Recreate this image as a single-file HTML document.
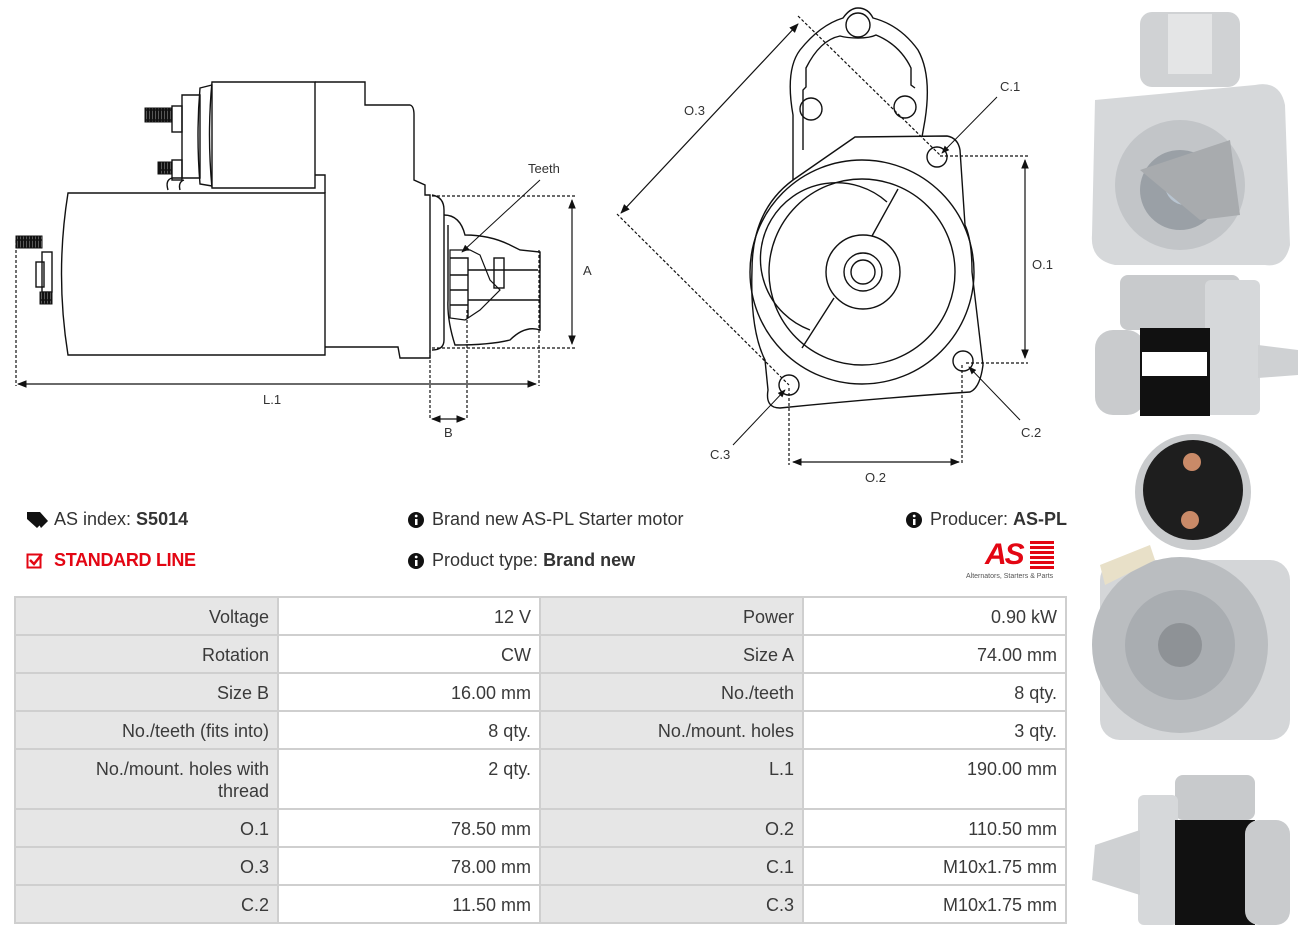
<!DOCTYPE html>
<html><head><meta charset="utf-8"><style>
body{margin:0;width:1303px;height:936px;background:#fff;position:relative;overflow:hidden;font-family:"Liberation Sans",sans-serif;color:#333}
.t{position:absolute;font-size:18px;white-space:nowrap}
.c{position:absolute;box-sizing:border-box;font-size:18px;text-align:right;padding:8px 8px 0 0;line-height:22px;color:#3a3a3a}
.g{background:#e6e6e6}.w{background:#fff}
</style></head><body>
<svg width="1303" height="936" style="position:absolute;left:0;top:0" fill="none" stroke="#111" stroke-width="1.4" font-family="Liberation Sans" >
<defs><marker id="a" viewBox="0 0 10 10" refX="9" refY="5" markerWidth="8" markerHeight="8" orient="auto-start-reverse"><path d="M0,1L10,5L0,9z" fill="#111" stroke="none"/></marker>
<pattern id="h" width="3" height="10" patternUnits="userSpaceOnUse"><rect width="3" height="10" fill="#fff"/><rect width="1.3" height="10" fill="#111"/></pattern></defs>
<!-- side view -->
<path d="M68,193 L325,193 L325,355 L68,355 Q55,274 68,193Z"/>
<path d="M212,82 L315,82 L315,188 L212,188 Q207,135 212,82Z"/>
<path d="M200,88 L212,85 L212,186 L200,184 Q196,135 200,88Z"/>
<path d="M182,95 L200,95 L200,178 L182,178Z"/>
<path d="M315,82 L365,82 L365,105 L410,105 Q414,106 414,115 L414,180 L425,185 L425,195 L430,195 L430,358 L400,358 L398,347 L325,347"/>
<path d="M315,175 L325,175 L325,193"/>
<path d="M168,190 Q165,180 172,178 L182,178 M180,190 Q178,182 184,180"/>
<rect x="172" y="106" width="10" height="26"/><rect x="172" y="160" width="10" height="20"/>
<path d="M145,108 h27 v14 h-27z M158,162 h14 v12 h-14z" stroke-width="1" fill="url(#h)"/>
<rect x="42" y="252" width="10" height="40"/><rect x="36" y="262" width="8" height="25"/>
<path d="M16,236 h26 v12 h-26z M40,292 h12 v12 h-12z" stroke-width="1" fill="url(#h)"/>
<path d="M432,195 Q444,197 444,210 L444,340 Q444,350 432,350"/>
<path d="M444,215 Q460,215 465,235 Q490,235 510,245 L520,250 L540,252 L540,330 Q525,325 510,340 Q490,345 455,345 Q447,320 448,300 L448,225"/>
<path d="M450,250 L470,250 L480,255 L490,280 L500,290 L480,310 L465,320 L450,318 Z" stroke-width="1.2"/>
<path d="M450,258 h18 v60 M450,275 h18 M450,290 h18 M450,305 h18 M468,270 h32 M468,300 h32 M500,270 h38 M500,300 h40"/>
<rect x="494" y="258" width="10" height="30"/>
<g stroke-dasharray="3,2" stroke-width="1.2">
<path d="M432,196 L575,196 M432,348 L575,348 M16,240 L16,386 M539,250 L539,386 M430,350 L430,420 M467,310 L467,420"/>
</g>
<path d="M572,200 L572,344" marker-start="url(#a)" marker-end="url(#a)" stroke-width="1.2"/>
<path d="M18,384 L536,384" marker-start="url(#a)" marker-end="url(#a)" stroke-width="1.2"/>
<path d="M432,419 L465,419" marker-start="url(#a)" marker-end="url(#a)" stroke-width="1.2"/>
<path d="M540,180 L462,252" marker-end="url(#a)" stroke-width="1"/>
<g fill="#333" stroke="none" font-size="13">
<text x="528" y="173">Teeth</text><text x="583" y="275">A</text><text x="263" y="404">L.1</text><text x="444" y="437">B</text>
</g>
<!-- front view -->
<path d="M793,180 L793,115 Q785,70 800,50 Q820,25 843,18 Q850,8 858,8 Q868,8 873,18 Q900,25 918,50 Q932,75 925,120 L922,137"/>
<path d="M803,150 L803,90 L806,87 L806,68 Q820,40 840,36 Q847,38 858,38 Q870,38 876,35 Q900,45 911,68 L911,85 L915,88"/>
<circle cx="858" cy="25" r="12"/><circle cx="811" cy="109" r="11"/><circle cx="905" cy="107" r="11"/>
<path d="M855,137 L947,136 Q958,138 960,150 L965,225 Q972,240 972,272 L983,365 Q980,388 970,392 Q880,398 780,408 Q765,408 768,390 L765,360 Q750,330 752,270 Q752,210 793,180 Z"/>
<circle cx="862" cy="272" r="112"/><circle cx="862" cy="272" r="93"/>
<path d="M887,202 A76,76 0 1 0 810,330"/>
<circle cx="863" cy="272" r="37"/><circle cx="863" cy="272" r="19"/><circle cx="863" cy="272" r="12"/>
<path d="M898,189 L872,236 M834,298 L802,348"/>
<circle cx="937" cy="157" r="10"/><circle cx="963" cy="361" r="10"/><circle cx="789" cy="385" r="10"/>
<g stroke-dasharray="3,2" stroke-width="1.2">
<path d="M798,16 L940,155 M617,214 L789,385 M940,156 L1028,156 M966,363 L1028,363 M789,388 L789,465 M962,365 L962,465"/>
</g>
<path d="M798,24 L621,213" marker-start="url(#a)" marker-end="url(#a)" stroke-width="1.2"/>
<path d="M1025,160 L1025,358" marker-start="url(#a)" marker-end="url(#a)" stroke-width="1.2"/>
<path d="M793,462 L959,462" marker-start="url(#a)" marker-end="url(#a)" stroke-width="1.2"/>
<path d="M997,97 L942,153" marker-end="url(#a)" stroke-width="1"/>
<path d="M1020,420 L969,367" marker-end="url(#a)" stroke-width="1"/>
<path d="M733,445 L785,390" marker-end="url(#a)" stroke-width="1"/>
<g fill="#333" stroke="none" font-size="13">
<text x="684" y="115">O.3</text><text x="1000" y="91">C.1</text><text x="1032" y="269">O.1</text><text x="1021" y="437">C.2</text><text x="710" y="459">C.3</text><text x="865" y="482">O.2</text>
</g>
<!-- photos -->
<g stroke="none">
<rect x="1140" y="12" width="100" height="75" rx="12" fill="#d0d2d4"/>
<rect x="1168" y="14" width="44" height="60" fill="#e4e5e6"/>
<path d="M1095,100 L1255,85 Q1280,80 1285,105 L1290,245 Q1285,268 1265,265 L1115,265 Q1090,260 1092,235 Z" fill="#d6d8da"/>
<circle cx="1180" cy="185" r="65" fill="#c2c5c8"/><circle cx="1180" cy="190" r="40" fill="#9aa0a6"/>
<circle cx="1185" cy="185" r="20" fill="#b8c4d0"/>
<path d="M1140,170 L1230,140 L1240,215 L1200,220 Z" fill="#a8abae"/>
<rect x="1120" y="275" width="120" height="55" rx="8" fill="#c8cacc"/>
<rect x="1205" y="280" width="55" height="135" rx="6" fill="#d6d8da"/>
<path d="M1258,345 L1298,350 L1298,375 L1258,378Z" fill="#cfd1d3"/>
<rect x="1095" y="330" width="50" height="85" rx="18" fill="#c9cbcd"/>
<rect x="1140" y="328" width="70" height="88" fill="#111"/>
<rect x="1142" y="352" width="65" height="24" fill="#fff"/>
<circle cx="1193" cy="492" r="58" fill="#c9cbcd"/><circle cx="1193" cy="490" r="50" fill="#1e1e1e"/>
<circle cx="1192" cy="462" r="9" fill="#c98a68"/><circle cx="1190" cy="520" r="9" fill="#c98a68"/>
<rect x="1100" y="560" width="190" height="180" rx="20" fill="#d4d6d8"/>
<circle cx="1180" cy="645" r="88" fill="#babdc0"/><circle cx="1180" cy="645" r="55" fill="#a9adb1"/><circle cx="1180" cy="645" r="22" fill="#8e9296"/>
<path d="M1100,565 L1150,545 L1155,560 L1105,585Z" fill="#e8e0c8"/>
<rect x="1175" y="775" width="80" height="45" rx="8" fill="#c8cacc"/>
<rect x="1138" y="795" width="40" height="130" rx="6" fill="#d6d8da"/>
<path d="M1140,830 L1095,845 L1092,880 L1140,895Z" fill="#cfd1d3"/>
<rect x="1175" y="820" width="80" height="105" fill="#111"/>
<rect x="1245" y="820" width="45" height="105" rx="14" fill="#c9cbcd"/>
</g>
</svg>
<!-- info -->
<svg width="22" height="18" style="position:absolute;left:26px;top:511px"><path d="M1,1 L9,1 L18,10 L11,17 L1,8Z M6,1 L14,1 L22,10 L15,17" fill="#111"/></svg>
<div class="t" style="left:54px;top:509px">AS index: <b>S5014</b></div>
<svg width="18" height="18" style="position:absolute;left:26px;top:551px"><rect x="1.5" y="3.5" width="13" height="13" fill="none" stroke="#e30613" stroke-width="2"/><path d="M4,9 L8,13 L16,3" fill="none" stroke="#e30613" stroke-width="2.5"/></svg>
<div class="t" style="left:54px;top:550px;color:#e30613;font-weight:bold;letter-spacing:-0.3px">STANDARD LINE</div>
<svg width="18" height="18" style="position:absolute;left:407px;top:511px"><circle cx="9" cy="9" r="8" fill="#111"/><rect x="8" y="8" width="2.5" height="6" fill="#fff"/><circle cx="9.2" cy="5" r="1.4" fill="#fff"/></svg>
<div class="t" style="left:432px;top:509px">Brand new AS-PL Starter motor</div>
<svg width="18" height="18" style="position:absolute;left:407px;top:552px"><circle cx="9" cy="9" r="8" fill="#111"/><rect x="8" y="8" width="2.5" height="6" fill="#fff"/><circle cx="9.2" cy="5" r="1.4" fill="#fff"/></svg>
<div class="t" style="left:432px;top:550px">Product type: <b>Brand new</b></div>
<svg width="18" height="18" style="position:absolute;left:905px;top:511px"><circle cx="9" cy="9" r="8" fill="#111"/><rect x="8" y="8" width="2.5" height="6" fill="#fff"/><circle cx="9.2" cy="5" r="1.4" fill="#fff"/></svg>
<div class="t" style="left:930px;top:509px">Producer: <b>AS-PL</b></div>
<div style="position:absolute;left:985px;top:538px;font:italic bold 30px 'Liberation Sans';color:#e30613;letter-spacing:-2px">AS</div>
<svg width="24" height="30" style="position:absolute;left:1030px;top:541px"><g fill="#e30613"><rect y="0" width="24" height="3"/><rect y="5" width="24" height="3"/><rect y="10" width="24" height="3"/><rect y="15" width="24" height="3"/><rect y="20" width="24" height="3"/><rect y="25" width="24" height="3"/></g></svg>
<div style="position:absolute;left:966px;top:573px;font-size:7px;color:#555">Alternators, Starters &amp; Parts</div>
<!-- table -->
<div style="position:absolute;left:14px;top:596px;width:1053px;height:328px;background:#cfcfcf"></div>
<div class="c g" style="left:16px;top:598px;width:261px;height:36px">Voltage</div><div class="c w" style="left:279px;top:598px;width:260px;height:36px">12 V</div><div class="c g" style="left:541px;top:598px;width:261px;height:36px">Power</div><div class="c w" style="left:804px;top:598px;width:261px;height:36px">0.90 kW</div>
<div class="c g" style="left:16px;top:636px;width:261px;height:36px">Rotation</div><div class="c w" style="left:279px;top:636px;width:260px;height:36px">CW</div><div class="c g" style="left:541px;top:636px;width:261px;height:36px">Size A</div><div class="c w" style="left:804px;top:636px;width:261px;height:36px">74.00 mm</div>
<div class="c g" style="left:16px;top:674px;width:261px;height:36px">Size B</div><div class="c w" style="left:279px;top:674px;width:260px;height:36px">16.00 mm</div><div class="c g" style="left:541px;top:674px;width:261px;height:36px">No./teeth</div><div class="c w" style="left:804px;top:674px;width:261px;height:36px">8 qty.</div>
<div class="c g" style="left:16px;top:712px;width:261px;height:36px">No./teeth (fits into)</div><div class="c w" style="left:279px;top:712px;width:260px;height:36px">8 qty.</div><div class="c g" style="left:541px;top:712px;width:261px;height:36px">No./mount. holes</div><div class="c w" style="left:804px;top:712px;width:261px;height:36px">3 qty.</div>
<div class="c g" style="left:16px;top:750px;width:261px;height:58px">No./mount. holes with<br>thread</div><div class="c w" style="left:279px;top:750px;width:260px;height:58px">2 qty.</div><div class="c g" style="left:541px;top:750px;width:261px;height:58px">L.1</div><div class="c w" style="left:804px;top:750px;width:261px;height:58px">190.00 mm</div>
<div class="c g" style="left:16px;top:810px;width:261px;height:36px">O.1</div><div class="c w" style="left:279px;top:810px;width:260px;height:36px">78.50 mm</div><div class="c g" style="left:541px;top:810px;width:261px;height:36px">O.2</div><div class="c w" style="left:804px;top:810px;width:261px;height:36px">110.50 mm</div>
<div class="c g" style="left:16px;top:848px;width:261px;height:36px">O.3</div><div class="c w" style="left:279px;top:848px;width:260px;height:36px">78.00 mm</div><div class="c g" style="left:541px;top:848px;width:261px;height:36px">C.1</div><div class="c w" style="left:804px;top:848px;width:261px;height:36px">M10x1.75 mm</div>
<div class="c g" style="left:16px;top:886px;width:261px;height:36px">C.2</div><div class="c w" style="left:279px;top:886px;width:260px;height:36px">11.50 mm</div><div class="c g" style="left:541px;top:886px;width:261px;height:36px">C.3</div><div class="c w" style="left:804px;top:886px;width:261px;height:36px">M10x1.75 mm</div>
</body></html>
